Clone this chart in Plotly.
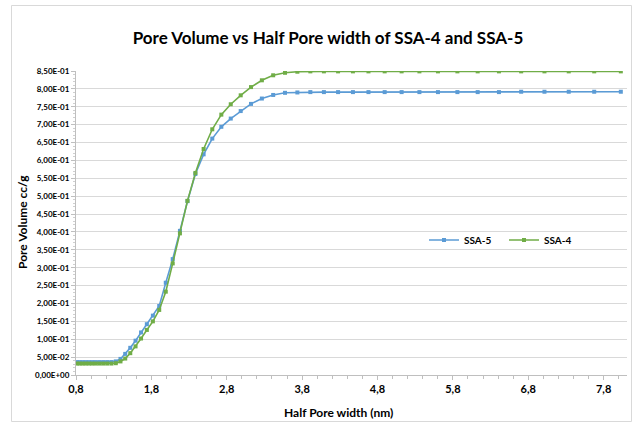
import plotly.graph_objects as go

# ---- data ----
half_pore_width = [0.810, 0.847, 0.886, 0.927, 0.970, 1.014, 1.061, 1.110, 1.161, 1.214,
                   1.270, 1.328, 1.390, 1.453, 1.520, 1.590, 1.663, 1.740, 1.820, 1.904,
                   1.991, 2.083, 2.179, 2.279, 2.384, 2.493, 2.608, 2.728, 2.853, 2.985,
                   3.122, 3.266, 3.416, 3.573, 3.737, 3.909, 4.089, 4.277, 4.474, 4.680,
                   4.895, 5.120, 5.356, 5.602, 5.860, 6.129, 6.411, 6.706, 7.015, 7.337,
                   7.675, 8.028]

ssa5 = [0.036, 0.036, 0.036, 0.036, 0.036, 0.036, 0.036, 0.036, 0.036, 0.036,
        0.036, 0.038, 0.045, 0.059, 0.076, 0.096, 0.119, 0.142, 0.166, 0.193,
        0.258, 0.324, 0.403, 0.486, 0.562, 0.617, 0.661, 0.694, 0.717, 0.738,
        0.758, 0.773, 0.783, 0.789, 0.790, 0.791, 0.791, 0.791, 0.791, 0.791,
        0.791, 0.791, 0.791, 0.791, 0.791, 0.791, 0.791, 0.792, 0.792, 0.792,
        0.792, 0.792]

ssa4 = [0.032, 0.032, 0.032, 0.032, 0.032, 0.032, 0.032, 0.032, 0.032, 0.032,
        0.032, 0.033, 0.038, 0.046, 0.061, 0.080, 0.102, 0.126, 0.150, 0.182,
        0.233, 0.312, 0.396, 0.487, 0.565, 0.632, 0.687, 0.728, 0.757, 0.782,
        0.805, 0.824, 0.838, 0.845, 0.848, 0.849, 0.849, 0.849, 0.849, 0.849,
        0.849, 0.849, 0.849, 0.849, 0.849, 0.849, 0.849, 0.849, 0.849, 0.849,
        0.849, 0.849]

x_tick_vals = [0.8, 1.8, 2.8, 3.8, 4.8, 5.8, 6.8, 7.8]
x_tick_text = ["0,8", "1,8", "2,8", "3,8", "4,8", "5,8", "6,8", "7,8"]
y_tick_vals = [0.00, 0.05, 0.10, 0.15, 0.20, 0.25, 0.30, 0.35, 0.40, 0.45,
               0.50, 0.55, 0.60, 0.65, 0.70, 0.75, 0.80, 0.85]
y_tick_text = ["0,00E+00", "5,00E-02", "1,00E-01", "1,50E-01", "2,00E-01", "2,50E-01",
               "3,00E-01", "3,50E-01", "4,00E-01", "4,50E-01", "5,00E-01", "5,50E-01",
               "6,00E-01", "6,50E-01", "7,00E-01", "7,50E-01", "8,00E-01", "8,50E-01"]

BLUE = "#5B9BD5"
GREEN = "#70AD47"
FONT = "Lato"
W, H = 636, 427
L, R, T, B = 76, 9, 71, 52
pw, ph = W - L - R, H - T - B


def px_x(p):
    return (p - L) / pw


def px_y(p):
    return (H - B - p) / ph


def bold(items):
    return ["<b>%s</b>" % s for s in items]


fig = go.Figure()
fig.add_trace(go.Scatter(x=half_pore_width, y=ssa5, mode="lines+markers",
                         name="<b>SSA-5</b>",
                         line=dict(color=BLUE, width=1.6),
                         marker=dict(symbol="square", size=4, color=BLUE)))
fig.add_trace(go.Scatter(x=half_pore_width, y=ssa4, mode="lines+markers",
                         name="<b>SSA-4</b>",
                         line=dict(color=GREEN, width=1.6),
                         marker=dict(symbol="square", size=4, color=GREEN)))

fig.update_layout(
    width=W, height=H,
    margin=dict(l=L, r=R, t=T, b=B),
    paper_bgcolor="white", plot_bgcolor="white",
    font=dict(family=FONT, color="#000000"),
    title=dict(text="<b>Pore Volume vs Half Pore width of SSA-4 and SSA-5</b>",
               x=328 / W, xanchor="center", xref="container",
               y=1 - 38 / H, yanchor="middle", yref="container",
               font=dict(size=17, family=FONT, color="#000000")),
    showlegend=True,
    legend=dict(orientation="h", x=px_x(424), y=px_y(240), xanchor="left", yanchor="middle",
                font=dict(size=10, family=FONT, color="#000000"),
                bgcolor="rgba(0,0,0,0)", itemwidth=30, entrywidth=35,
                entrywidthmode="pixels", tracegroupgap=0),
)

fig.update_xaxes(range=[0.8, 8.11], tickvals=x_tick_vals, ticktext=bold(x_tick_text),
                 tickfont=dict(size=11, family=FONT, color="#000000"),
                 showgrid=False, zeroline=False, showline=True, linecolor="#BFBFBF",
                 linewidth=1, ticks="outside", ticklen=4, tickcolor="#BFBFBF",
                 minor=dict(dtick=0.2, tick0=0.8, ticks="outside", ticklen=3,
                            tickcolor="#BFBFBF", showgrid=False))
fig.update_yaxes(range=[0, 0.85], tickvals=y_tick_vals, ticktext=bold(y_tick_text),
                 tickfont=dict(size=8, family=FONT, color="#000000"),
                 showgrid=True, gridcolor="#D9D9D9", gridwidth=1, zeroline=False,
                 showline=True, linecolor="#BFBFBF", linewidth=1,
                 ticks="outside", ticklen=4, tickcolor="#BFBFBF",
                 minor=dict(dtick=0.01, tick0=0, ticks="outside", ticklen=2,
                            tickcolor="#D0D0D0", showgrid=False))

fig.add_annotation(text="<b>Half Pore width (nm)</b>", xref="paper", yref="paper",
                   x=px_x(338), y=px_y(412), xanchor="center", yanchor="middle",
                   showarrow=False, font=dict(size=12, family=FONT, color="#000000"))
fig.add_annotation(text="<b>Pore Volume cc/g</b>", xref="paper", yref="paper",
                   x=px_x(22), y=px_y(222), xanchor="center", yanchor="middle",
                   textangle=-90, showarrow=False,
                   font=dict(size=12, family=FONT, color="#000000"))

# chart-area border
fig.add_shape(type="rect", xref="paper", yref="paper",
              x0=px_x(11.5), x1=px_x(631.5), y0=px_y(421.5), y1=px_y(5.5),
              line=dict(color="#D9D9D9", width=1), fillcolor="rgba(0,0,0,0)", layer="below")

fig.write_html("out.html")
